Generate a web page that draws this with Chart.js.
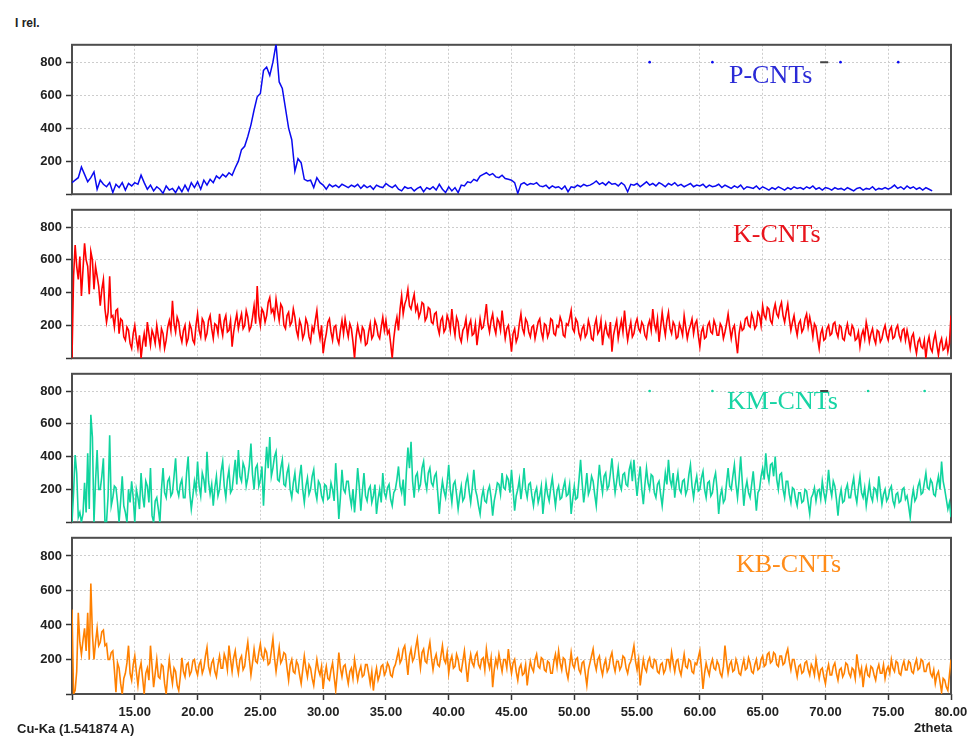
<!DOCTYPE html>
<html>
<head>
<meta charset="utf-8">
<script src="https://cdn.jsdelivr.net/npm/chart.js@4.4.1/dist/chart.umd.min.js"></script>
<style>
  html, body { margin: 0; padding: 0; background: #fff; }
  #wrap { position: relative; width: 968px; height: 738px; overflow: hidden; font-family: "Liberation Sans", Arial, sans-serif; }
  #wrap canvas { position: absolute; left: 0; }
  .txt { position: absolute; white-space: nowrap; color: #222; font-size: 13px; line-height: 13px; font-weight: bold; }
  .tag { position: absolute; white-space: nowrap; font-family: "Liberation Serif", "Times New Roman", serif; font-size: 26px; line-height: 26px; }
</style>
</head>
<body>
<div id="wrap">
  <canvas id="c1"></canvas>
  <canvas id="c2"></canvas>
  <canvas id="c3"></canvas>
  <canvas id="c4"></canvas>
  <div class="txt" style="left:15px; top:17px; font-size:12px;">I rel.</div>
  <div class="txt" style="left:17px; top:722px;">Cu-Ka (1.541874 A)</div>
  <div class="txt" style="left:914px; top:721px;">2theta</div>
  <div class="tag" style="left:729px; top:62px; color:#2a2ad6;">P-CNTs</div>
  <div class="tag" style="left:733px; top:221px; color:#e8141c;">K-CNTs</div>
  <div class="tag" style="left:727px; top:388px; color:#17d4a4;">KM-CNTs</div>
  <div class="tag" style="left:736px; top:551px; color:#ff8c1a;">KB-CNTs</div>
</div>
<script>
// scan grids, 2theta 10..80 deg (P-CNTs read at 0.25 deg, the noisy ones at 0.125 deg)
const twoTheta = Array.from({ length: 281 }, (_, i) => 10 + i * 0.25);
const twoThetaFine = Array.from({ length: 561 }, (_, i) => 10 + i * 0.125);

// intensities, one row per 5 deg
const pCnts = [
  70, 85, 100, 165, 120, 75, 100, 135, 30, 85, 60, 45, 70, 10, 60, 40, 70, 25, 65, 50,
  70, 60, 115, 70, 30, 55, 20, 45, 30, 5, 50, 25, 35, 10, 45, 15, 55, 20, 70, 40,
  75, 30, 85, 55, 90, 70, 110, 95, 120, 105, 130, 115, 160, 200, 270, 290, 350, 420, 510, 590,
  610, 750, 770, 720, 800, 910, 680, 640, 520, 400, 330, 140, 215, 190, 90, 80, 85, 40, 100, 70,
  55, 30, 60, 45, 55, 40, 60, 50, 40, 55, 45, 60, 35, 55, 40, 50, 30, 55, 45, 40,
  65, 50, 40, 55, 30, 20, 45, 35, 40, 20, 35, 45, 15, 40, 30, 45, 25, 60, 30, 10,
  45, 20, 40, 10, 55, 50, 75, 70, 90, 80, 110, 120, 130, 115, 125, 105, 100, 115, 95, 90,
  85, 70, 5, 60, 70, 55, 65, 60, 70, 50, 45, 55, 35, 50, 40, 45, 30, 50, 15, 45,
  40, 55, 45, 60, 50, 55, 65, 80, 60, 70, 55, 75, 60, 65, 50, 70, 55, 15, 60, 55,
  65, 45, 60, 75, 55, 65, 50, 70, 60, 45, 65, 55, 70, 50, 60, 45, 55, 65, 45, 55,
  50, 60, 40, 55, 45, 50, 60, 40, 55, 45, 35, 50, 40, 55, 30, 45, 40, 35, 50, 30,
  45, 35, 25, 40, 30, 45, 35, 25, 40, 30, 45, 35, 40, 30, 45, 35, 50, 30, 40, 25,
  40, 35, 25, 40, 30, 35, 25, 40, 30, 20, 35, 40, 25, 35, 30, 45, 25, 35, 30, 40,
  30, 40, 55, 35, 45, 30, 50, 35, 45, 30, 40, 25, 40, 30, 20, null, null, null, null, null,
  null
];

const kCnts = [
  0, 500, 690, 560, 480, 620, 380, 540, 700, 600, 560, 390, 650, 600, 420, 560, 500, 440, 320, 420, 480, 300, 220, 280, 500, 250, 260, 190, 290, 300, 150, 240, 230, 130, 110, 190, 170, 90, 60, 150,
  200, 120, 60, 140, 0, 90, 150, 70, 220, 150, 80, 170, 140, 90, 200, 130, 70, 180, 150, 60, 110, 190, 230, 170, 350, 210, 160, 250, 220, 140, 100, 170, 200, 90, 120, 210, 180, 110, 90, 200,
  270, 170, 130, 240, 220, 120, 150, 230, 260, 180, 120, 210, 200, 150, 270, 190, 140, 230, 260, 160, 170, 230, 70, 160, 220, 270, 180, 230, 270, 180, 200, 290, 250, 170, 190, 250, 320, 210, 440, 260,
  200, 300, 280, 220, 260, 340, 370, 280, 300, 250, 360, 290, 230, 330, 310, 200, 180, 260, 280, 200, 220, 300, 250, 170, 130, 230, 200, 120, 150, 240, 210, 130, 100, 190, 160, 230, 290, 180, 120, 200,
  30, 100, 150, 220, 240, 160, 110, 190, 200, 120, 90, 170, 230, 150, 240, 180, 130, 210, 180, 100, 0, 130, 200, 150, 110, 190, 170, 80, 90, 160, 210, 120, 140, 230, 200, 140, 120, 190, 250, 170,
  230, 150, 170, 90, 0, 120, 200, 250, 170, 300, 380, 270, 330, 360, 420, 320, 300, 350, 390, 290, 320, 250, 280, 340, 330, 230, 250, 310, 300, 220, 210, 270, 280, 190, 150, 230, 250, 160, 180, 260,
  230, 170, 300, 200, 140, 250, 220, 130, 100, 170, 190, 240, 130, 200, 230, 140, 150, 210, 80, 160, 240, 180, 190, 250, 330, 210, 160, 230, 270, 190, 150, 240, 220, 170, 290, 200, 120, 180, 200, 130,
  40, 150, 180, 100, 130, 210, 270, 180, 150, 240, 220, 160, 130, 190, 200, 120, 170, 220, 240, 160, 120, 210, 200, 130, 160, 240, 230, 150, 140, 200, 190, 250, 220, 140, 130, 210, 200, 240, 290, 180,
  160, 240, 220, 150, 120, 180, 200, 130, 150, 230, 190, 120, 110, 200, 240, 150, 170, 230, 80, 160, 210, 150, 130, 220, 40, 140, 190, 230, 120, 180, 230, 160, 290, 190, 110, 170, 220, 130, 150, 210,
  240, 180, 160, 220, 200, 140, 120, 200, 230, 170, 300, 210, 170, 240, 100, 190, 280, 200, 140, 230, 280, 180, 150, 220, 200, 120, 130, 210, 180, 140, 260, 190, 120, 170, 200, 240, 150, 210, 230, 140,
  70, 160, 190, 120, 130, 200, 220, 160, 150, 230, 200, 140, 140, 210, 190, 120, 160, 210, 270, 190, 120, 180, 200, 110, 30, 150, 210, 170, 180, 240, 250, 200, 190, 270, 240, 180, 200, 280, 260, 200,
  320, 260, 240, 310, 300, 230, 210, 290, 330, 270, 250, 310, 340, 260, 220, 280, 330, 240, 170, 220, 260, 190, 140, 210, 230, 160, 180, 240, 270, 190, 250, 200, 130, 210, 190, 120, 60, 150, 180, 110,
  120, 180, 200, 140, 150, 210, 220, 160, 130, 200, 190, 120, 110, 170, 210, 150, 140, 200, 180, 110, 120, 160, 70, 140, 170, 120, 220, 170, 100, 150, 180, 120, 90, 170, 160, 100, 120, 170, 200, 140,
  110, 170, 190, 120, 130, 180, 200, 140, 110, 170, 180, 110, 170, 120, 60, 130, 150, 80, 30, 100, 120, 70, 60, 110, 0, 90, 130, 60, 40, 110, 150, 80, 20, 90, 120, 50, 60, 110, 40, 90,
  260
];

const kmCnts = [
  0, 180, 410, 300, 30, 60, 0, 50, 240, 60, 420, 80, 655, 520, 0, 250, 440, 200, 200, 280, 390, 0, 0, 160, 530, 100, 150, 220, 210, 120, 0, 130, 280, 100, 60, 0, 200, 120, 250, 150,
  0, 200, 150, 80, 300, 160, 90, 250, 220, 120, 330, 40, 0, 130, 150, 80, 0, 200, 330, 180, 150, 250, 270, 160, 180, 280, 390, 200, 160, 230, 260, 150, 150, 300, 400, 180, 80, 160, 250, 190,
  370, 220, 160, 300, 260, 180, 430, 250, 170, 230, 100, 210, 280, 160, 200, 310, 370, 220, 150, 260, 320, 180, 200, 290, 380, 230, 440, 280, 250, 360, 330, 220, 270, 350, 480, 290, 200, 330, 350, 220,
  260, 340, 100, 300, 460, 330, 520, 280, 330, 400, 430, 260, 250, 330, 380, 230, 220, 300, 340, 200, 150, 240, 300, 190, 180, 280, 350, 200, 120, 220, 270, 170, 200, 280, 320, 190, 140, 250, 230, 160,
  130, 230, 220, 140, 150, 240, 200, 130, 360, 200, 20, 150, 320, 200, 180, 250, 250, 160, 100, 200, 60, 180, 330, 220, 70, 190, 300, 160, 130, 200, 220, 120, 160, 230, 50, 140, 200, 120, 300, 180,
  150, 210, 230, 140, 100, 180, 200, 260, 340, 220, 180, 260, 100, 300, 455, 330, 490, 250, 150, 280, 300, 200, 230, 330, 370, 250, 200, 300, 330, 240, 220, 280, 300, 180, 50, 170, 250, 190, 150, 240,
  350, 200, 120, 230, 250, 170, 80, 160, 220, 130, 150, 240, 280, 190, 120, 210, 320, 200, 160, 100, 50, 150, 200, 130, 120, 190, 220, 150, 40, 130, 180, 240, 230, 170, 300, 210, 200, 280, 260, 180,
  320, 200, 70, 160, 200, 260, 140, 220, 330, 200, 150, 230, 240, 160, 100, 180, 210, 120, 160, 220, 50, 150, 240, 170, 130, 210, 270, 180, 100, 190, 220, 140, 150, 210, 250, 160, 170, 230, 50, 140,
  220, 140, 150, 260, 380, 240, 120, 200, 300, 170, 200, 280, 250, 170, 100, 230, 350, 250, 180, 280, 300, 200, 220, 300, 390, 270, 180, 250, 330, 230, 200, 290, 300, 230, 220, 320, 360, 250, 380, 260,
  160, 260, 340, 200, 110, 230, 330, 240, 200, 290, 280, 180, 150, 230, 250, 170, 100, 200, 300, 230, 380, 260, 220, 300, 150, 240, 300, 200, 180, 250, 260, 170, 200, 290, 350, 220, 150, 230, 280, 190,
  200, 270, 310, 200, 150, 240, 250, 160, 180, 260, 300, 200, 50, 160, 200, 120, 140, 240, 330, 220, 200, 280, 350, 230, 150, 260, 400, 250, 100, 200, 250, 180, 150, 230, 310, 190, 70, 180, 200, 280,
  330, 260, 420, 300, 250, 350, 360, 280, 400, 260, 200, 290, 300, 200, 150, 250, 250, 170, 120, 210, 200, 140, 100, 180, 180, 120, 130, 200, 190, 120, 50, 150, 170, 210, 130, 190, 200, 140, 250, 180,
  130, 200, 320, 210, 160, 250, 220, 140, 40, 150, 200, 120, 130, 200, 230, 150, 150, 220, 270, 170, 120, 210, 280, 180, 150, 210, 100, 170, 240, 160, 130, 210, 200, 150, 280, 190, 110, 170, 200, 130,
  150, 200, 220, 130, 100, 170, 180, 120, 130, 200, 210, 140, 160, 100, 30, 140, 200, 130, 150, 220, 250, 170, 180, 240, 300, 210, 200, 260, 240, 170, 160, 230, 280, 200, 370, 250, 200, 140, 80, 120,
  30
];

const kbCnts = [
  490, 0, 20, 130, 470, 300, 230, 310, 380, 250, 470, 200, 640, 350, 200, 300, 380, 280, 300, 360, 370, 280, 290, 200, 200, 240, 250, 140, 10, 180, 150, 60, 0, 90, 120, 180, 280, 120, 80, 170,
  220, 130, 50, 140, 180, 90, 0, 120, 150, 80, 280, 160, 40, 120, 200, 100, 90, 170, 160, 60, 0, 110, 200, 120, 60, 150, 130, 50, 20, 100, 210, 130, 100, 170, 180, 110, 130, 190, 200, 140,
  110, 170, 190, 120, 150, 220, 270, 160, 120, 180, 200, 130, 100, 170, 220, 150, 150, 230, 200, 140, 280, 200, 130, 210, 250, 170, 120, 200, 220, 140, 160, 240, 300, 200, 110, 180, 260, 190, 180, 240,
  290, 220, 200, 260, 240, 170, 180, 250, 320, 210, 130, 200, 270, 180, 200, 240, 230, 150, 80, 170, 200, 130, 120, 190, 170, 110, 60, 140, 220, 150, 100, 170, 150, 90, 50, 130, 200, 140, 110, 160,
  30, 110, 160, 90, 80, 140, 180, 100, 20, 120, 240, 150, 100, 160, 170, 110, 60, 130, 150, 90, 200, 140, 80, 130, 160, 100, 110, 170, 170, 120, 60, 130, 20, 100, 150, 80, 110, 160, 170, 110,
  130, 180, 160, 110, 100, 150, 170, 210, 250, 180, 200, 260, 280, 200, 110, 220, 260, 190, 210, 270, 320, 230, 150, 240, 260, 190, 180, 250, 300, 210, 140, 200, 230, 170, 160, 220, 280, 200, 180, 240,
  120, 190, 220, 150, 160, 230, 200, 140, 130, 190, 250, 160, 70, 170, 230, 180, 160, 220, 240, 170, 150, 200, 210, 140, 260, 190, 150, 210, 40, 140, 200, 160, 230, 180, 130, 200, 200, 150, 260, 180,
  120, 180, 200, 130, 80, 150, 170, 110, 120, 170, 50, 130, 190, 150, 130, 200, 230, 160, 150, 210, 200, 140, 130, 190, 180, 120, 120, 190, 230, 160, 250, 180, 140, 210, 200, 130, 90, 160, 240, 170,
  150, 200, 210, 140, 120, 180, 190, 120, 50, 140, 180, 220, 260, 180, 140, 200, 220, 150, 110, 170, 200, 130, 150, 210, 240, 170, 130, 190, 190, 140, 160, 220, 210, 150, 120, 170, 190, 230, 280, 190,
  140, 200, 50, 130, 200, 150, 130, 190, 210, 160, 150, 200, 190, 130, 120, 170, 180, 120, 140, 200, 200, 150, 240, 180, 130, 190, 200, 140, 110, 170, 230, 160, 150, 200, 190, 130, 120, 180, 170, 210,
  250, 150, 30, 120, 180, 140, 110, 170, 200, 150, 140, 190, 170, 120, 100, 160, 280, 190, 120, 170, 190, 130, 140, 200, 170, 120, 110, 160, 200, 140, 150, 210, 180, 130, 120, 170, 200, 140, 150, 200,
  220, 160, 170, 230, 240, 180, 190, 240, 230, 170, 160, 220, 220, 170, 180, 230, 260, 190, 140, 200, 200, 150, 100, 160, 170, 120, 130, 180, 190, 140, 110, 170, 150, 110, 200, 140, 90, 140, 150, 100,
  60, 130, 170, 110, 110, 160, 180, 120, 80, 140, 150, 100, 120, 180, 170, 120, 100, 150, 140, 90, 230, 160, 110, 150, 40, 120, 160, 110, 100, 160, 150, 110, 80, 140, 170, 120, 120, 170, 90, 140,
  160, 120, 200, 150, 130, 190, 180, 120, 110, 160, 190, 140, 140, 190, 180, 130, 120, 170, 200, 140, 150, 200, 190, 130, 130, 170, 180, 120, 100, 140, 60, 110, 130, 70, 10, 90, 80, 40, 20, 110,
  200
];

// small peak-marker dots seen along the 800 line of two panels
const pMarkX = [56.0, 61.0, 71.2, 75.8];
const kmMarkX = [56.0, 61.0, 73.4, 77.9];
const markY = 800;
const dashX = 69.9;

const yTicks = [0, 200, 400, 600, 800];

const tickFont = { family: "Liberation Sans", size: 13, weight: "bold" };
const gridStyle = {
  color: "#cdcdcd",
  lineWidth: 1,
  tickLength: 6,
  tickColor: "#333",
  tickWidth: 1.5
};

// dark frame round each panel, drawn under the trace
const frame = {
  id: "frame",
  beforeDatasetsDraw(chart) {
    const { ctx, chartArea: a } = chart;
    ctx.save();
    ctx.strokeStyle = "#4d4d4d";
    ctx.lineWidth = 2;
    ctx.strokeRect(a.left, a.top, a.right - a.left, a.bottom - a.top);
    ctx.restore();
  }
};

const markerSets = (xs, color) => [
  {
    data: xs.map(x => ({ x, y: markY })),
    showLine: false,
    pointRadius: 1.3,
    pointBackgroundColor: color,
    pointBorderWidth: 0
  },
  {
    data: [{ x: dashX, y: markY }],
    showLine: false,
    pointStyle: "line",
    pointRadius: 4,
    pointBorderColor: "#444",
    pointBorderWidth: 2
  }
];

const panels = [
  { id: "c1", top: 37, bottom: 202, x: twoTheta, values: pCnts, color: "#0a0af0", marks: pMarkX },
  { id: "c2", top: 202, bottom: 366, x: twoThetaFine, values: kCnts, color: "#ff0000" },
  { id: "c3", top: 366, bottom: 530, x: twoThetaFine, values: kmCnts, color: "#10d49e", marks: kmMarkX },
  { id: "c4", top: 530, bottom: 694, x: twoThetaFine, values: kbCnts, color: "#ff8000", last: true }
];

const makePanel = (p) => {
  const canvas = document.getElementById(p.id);
  const canvasTop = p.top - 4;
  const w = 1000;
  const h = p.last ? 738 - canvasTop : p.bottom - p.top + 8;
  canvas.width = w;
  canvas.height = h;
  canvas.style.top = canvasTop + "px";
  canvas.style.width = w + "px";
  canvas.style.height = h + "px";

  const datasets = [{
    data: p.values,
    borderColor: p.color,
    borderWidth: p.id === "c1" ? 1.5 : 1.6,
    pointRadius: 0,
    tension: 0,
    fill: false
  }];
  if (p.marks) datasets.push(...markerSets(p.marks, p.color));

  new Chart(canvas, {
    type: "line",
    data: { labels: p.x, datasets },
    options: {
      responsive: false,
      animation: false,
      events: [],
      layout: { padding: { top: 4, bottom: p.last ? 0 : 4, left: 0, right: 49 } },
      plugins: { legend: { display: false }, tooltip: { enabled: false } },
      scales: {
        x: {
          type: "linear",
          min: 10,
          max: 80,
          ticks: {
            display: !!p.last,
            stepSize: 5,
            autoSkip: false,
            maxRotation: 0,
            padding: 5,
            color: "#222",
            font: tickFont,
            callback: (v) => (v === 10 ? "" : v.toFixed(2))
          },
          grid: { ...gridStyle, drawTicks: !!p.last },
          border: { display: false, dash: [2, 2] },
          afterFit: (s) => { s.height = p.last ? 44 : 0; }
        },
        y: {
          min: 0,
          max: 905,
          afterBuildTicks: (s) => { s.ticks = yTicks.map(v => ({ value: v })); },
          ticks: {
            padding: 4,
            color: "#222",
            font: tickFont,
            callback: (v) => (v === 0 ? "" : v)
          },
          grid: gridStyle,
          border: { display: false, dash: [2, 2] },
          afterFit: (s) => { s.width = 72; }
        }
      }
    },
    plugins: [frame]
  });
};

panels.forEach(makePanel);
</script>
</body>
</html>
